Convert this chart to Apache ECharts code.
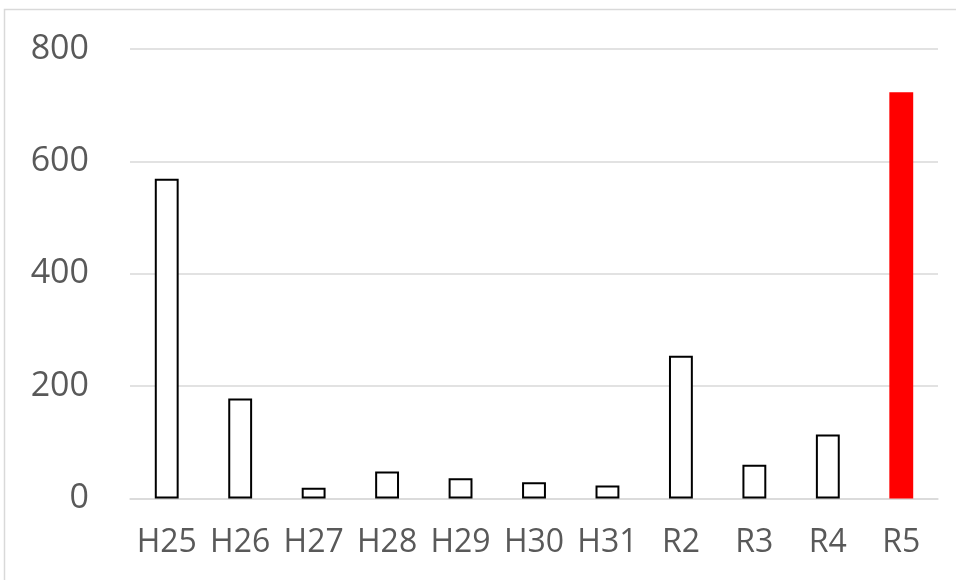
<!DOCTYPE html>
<html>
<head>
<meta charset="utf-8">
<script src="https://cdn.jsdelivr.net/npm/echarts@6/dist/echarts.min.js"></script>
<style>
html,body{margin:0;padding:0;background:#fff;}
#chart{width:956px;height:580px;}
</style>
</head>
<body>
<div id="chart"></div>
<script>
const categories = ['H25','H26','H27','H28','H29','H30','H31','R2','R3','R4','R5'];
const values = [569, 178, 19, 48, 36, 29, 23, 254, 60, 114, 723];
const highlightIndex = 10;

const chart = echarts.init(document.getElementById('chart'), null, {renderer:'canvas'});
const font = '"Open Sans", "Noto Sans", sans-serif';
chart.setOption({
  backgroundColor: '#ffffff',
  animation: false,
  graphic: [{
    type: 'rect',
    shape: {x: 4.5, y: 9.5, width: 1000, height: 700},
    style: {fill: 'none', stroke: '#d9d9d9', lineWidth: 1.5},
    silent: true
  }],
  grid: {left: 130, right: 18, top: 49, bottom: 81.5},
  xAxis: {
    type: 'category',
    data: categories,
    axisLine: {show: true, lineStyle: {color: '#d9d9d9', width: 1.5}},
    axisTick: {show: false},
    axisLabel: {color: '#595959', fontSize: 32, fontFamily: font, margin: 28, interval: 0}
  },
  yAxis: {
    type: 'value',
    min: 0, max: 800, interval: 200,
    axisLine: {show: false},
    axisTick: {show: false},
    splitLine: {lineStyle: {color: '#d9d9d9', width: 1.5}},
    axisLabel: {color: '#595959', fontSize: 34, fontFamily: font, margin: 41}
  },
  series: [{
    type: 'bar',
    barWidth: '32.5%',
    data: values.map((v, i) => i === highlightIndex
      ? {value: v, itemStyle: {color: '#ff0000', borderColor: '#ff0000', borderWidth: 0}}
      : {value: v, itemStyle: {color: '#ffffff', borderColor: '#000000', borderWidth: 2}})
  }]
});
</script>
</body>
</html>
